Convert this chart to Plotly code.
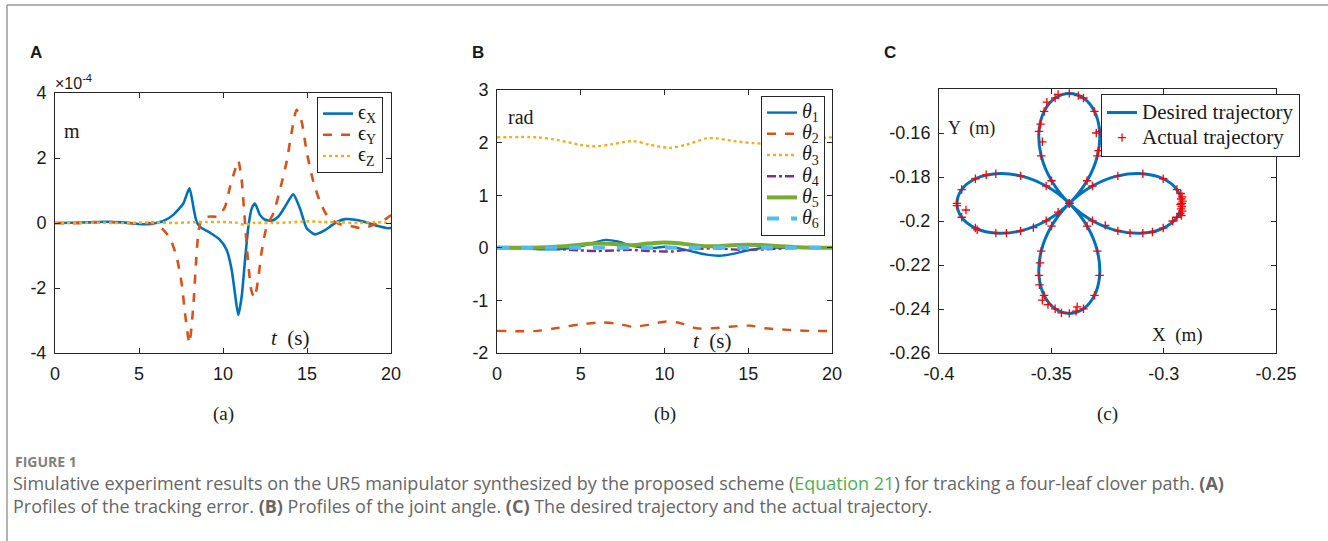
import plotly.graph_objects as go

# ---------------- DATA ----------------
# Panel A: tracking error (units of 1e-4 m)
t_ex = [0, 1, 2, 3, 4, 5, 5.5, 6, 6.45, 7.04, 7.64, 8.0, 8.27, 8.43, 8.63, 9.23, 9.82, 10.22,
        10.52, 10.71, 10.91, 11.11, 11.31, 11.51, 11.71, 11.9, 12.2, 12.5, 12.9, 13.3, 13.69,
        14.18, 14.58, 14.98, 15.48, 16.07, 16.67, 17.26, 17.86, 18.45, 19.05, 19.84, 20]
eps_x = [0, 0.01, 0.02, 0.04, 0.02, -0.03, -0.04, 0.0, 0.06, 0.25, 0.6, 1.07, 0.4, 0.04, -0.12,
         -0.3, -0.52, -0.83, -1.45, -2.16, -2.83, -2.27, -1.14, -0.11, 0.45, 0.6, 0.25, 0.1, 0.07,
         0.2, 0.5, 0.88, 0.45, -0.16, -0.35, -0.22, 0.0, 0.12, 0.1, 0.03, -0.07, -0.16, -0.15]

t_ey = [0, 1, 2, 3, 4, 5, 5.6, 6.05, 6.45, 6.85, 7.24, 7.54, 7.74, 8.0, 8.23, 8.39, 8.53, 8.73,
        9.23, 9.72, 10.12, 10.42, 10.71, 10.91, 11.11, 11.31, 11.5, 11.7, 11.88, 12.1, 12.3, 12.6,
        13.0, 13.39, 13.79, 14.09, 14.38, 14.68, 14.98, 15.38, 15.77, 16.17, 16.57, 17.06, 17.66,
        18.25, 18.75, 19.24, 19.74, 20]
eps_y = [0, -0.01, 0.01, 0.03, 0.01, -0.02, 0.0, -0.06, -0.21, -0.47, -1.04, -1.86, -2.78, -3.7,
         -2.57, -1.24, -0.32, 0.14, 0.2, 0.2, 0.5, 1.12, 1.63, 1.92, 1.32, 0.0, -1.24, -2.1, -2.3,
         -1.7, -0.88, -0.11, 0.3, 1.02, 1.89, 2.81, 3.48, 3.12, 2.19, 1.27, 0.66, 0.25, 0.06, -0.05,
         -0.1, -0.16, -0.1, 0.0, 0.14, 0.25]

t_ez = [0, 2, 4, 6, 7, 8, 9, 10, 10.8, 11.3, 11.8, 13, 14, 15, 16, 17, 18, 19, 20]
eps_z = [0, 0.01, 0.0, 0.02, 0.0, 0.02, 0.03, 0.03, 0.01, -0.06, 0.0, 0.0, 0.02, 0.05, 0.03,
         0.02, 0.0, 0.03, 0.0]

a_yticks = [-4, -2, 0, 2, 4]
a_xticks = [0, 5, 10, 15, 20]

# Panel B: joint angles (rad)
t_th1 = [0, 2, 3, 4, 5, 5.8, 6.5, 7.2, 8, 8.8, 9.5, 10, 10.5, 11, 11.8, 12.5, 13.3, 14, 14.8,
         15.5, 16, 18, 20]
theta1 = [0, -0.02, -0.03, -0.02, 0.03, 0.1, 0.15, 0.12, 0.04, 0.0, 0.0, 0.02, 0.01, -0.02,
          -0.08, -0.13, -0.15, -0.12, -0.06, -0.02, 0, 0, 0]
t_th2 = [0, 2.4, 3.5, 4.9, 6.1, 7.1, 8.1, 9.1, 10.1, 10.9, 11.9, 12.9, 13.9, 15.1, 16, 17.4,
         18.6, 20]
theta2 = [-1.58, -1.58, -1.53, -1.46, -1.42, -1.44, -1.5, -1.46, -1.4, -1.43, -1.53, -1.53,
          -1.5, -1.48, -1.53, -1.56, -1.58, -1.58]
t_th3 = [0, 2.4, 3.6, 4.9, 5.9, 6.9, 8.1, 9.1, 10.3, 11.3, 12.5, 13.1, 14.1, 15.3, 16.5, 17.5,
         18.7, 20]
theta3 = [2.1, 2.1, 2.05, 1.96, 1.93, 1.97, 2.03, 1.96, 1.9, 1.96, 2.08, 2.08, 2.03, 1.99,
          1.98, 2.02, 2.07, 2.1]
t_th4 = [0, 2, 3, 4, 5, 6, 7, 8, 9, 10, 10.5, 11, 12, 13, 14, 15, 16, 18, 20]
theta4 = [0, 0, -0.01, -0.03, -0.05, -0.06, -0.05, -0.04, -0.06, -0.07, -0.07, -0.05, -0.02,
          -0.01, -0.03, -0.04, -0.03, 0, 0]
t_th5 = [0, 2, 3, 4, 5, 6, 7, 8, 9, 10, 11, 12, 13, 14, 15, 16, 17, 18, 20]
theta5 = [0, 0, 0.01, 0.03, 0.06, 0.08, 0.07, 0.05, 0.08, 0.1, 0.08, 0.04, 0.03, 0.05, 0.06,
          0.05, 0.03, 0.01, 0]
t_th6 = [0, 5, 10, 15, 20]
theta6 = [0, 0, 0, 0, 0]

b_yticks = [-2, -1, 0, 1, 2, 3]
b_xticks = [0, 5, 10, 15, 20]

# Panel C: four-leaf clover trajectory (m)
desired_x = [-0.292, -0.2941, -0.3002, -0.3093, -0.3204, -0.3317, -0.342, -0.3499, -0.3545,
             -0.3555, -0.3532, -0.3483, -0.342, -0.3357, -0.3308, -0.3285, -0.3295, -0.3341,
             -0.342, -0.3523, -0.3637, -0.3747, -0.3838, -0.3899, -0.392, -0.3899, -0.3838,
             -0.3747, -0.3637, -0.3523, -0.342, -0.3341, -0.3295, -0.3285, -0.3308, -0.3357,
             -0.342, -0.3483, -0.3532, -0.3555, -0.3545, -0.3499, -0.342, -0.3317, -0.3204,
             -0.3093, -0.3002, -0.2941, -0.292]
desired_y = [-0.192, -0.1857, -0.1808, -0.1785, -0.1795, -0.1841, -0.192, -0.2023, -0.2137,
             -0.2247, -0.2338, -0.2399, -0.242, -0.2399, -0.2338, -0.2247, -0.2137, -0.2023,
             -0.192, -0.1841, -0.1795, -0.1785, -0.1808, -0.1857, -0.192, -0.1983, -0.2032,
             -0.2055, -0.2045, -0.1999, -0.192, -0.1817, -0.1704, -0.1593, -0.1502, -0.1441,
             -0.142, -0.1441, -0.1502, -0.1593, -0.1704, -0.1817, -0.192, -0.1999, -0.2045,
             -0.2055, -0.2032, -0.1983, -0.192]
# extra actual-trajectory samples (denser spots)
extra_x = [-0.2924, -0.2918, -0.2922, -0.2916, -0.2925, -0.2919, -0.2923, -0.2917, -0.2926,
           -0.2921, -0.3550, -0.3553, -0.3540, -0.3515, -0.3455, -0.3390, -0.3385, -0.3830,
           -0.3700, -0.3580, -0.3470, -0.3260, -0.3150, -0.3050, -0.2960, -0.3540, -0.3548,
           -0.3520, -0.3470, -0.3380, -0.3300, -0.3290, -0.3880, -0.3920, -0.3790]
extra_y = [-0.1875, -0.1890, -0.1900, -0.1910, -0.1925, -0.1935, -0.1945, -0.1955, -0.1965,
           -0.1975, -0.2190, -0.2290, -0.2360, -0.2380, -0.2418, -0.2410, -0.2390, -0.2040,
           -0.2055, -0.2030, -0.1960, -0.2020, -0.2055, -0.2050, -0.2000, -0.1640, -0.1560,
           -0.1460, -0.1425, -0.1430, -0.1600, -0.1680, -0.1950, -0.1930, -0.1790]
actual_x = desired_x + extra_x
actual_y = desired_y + extra_y

c_xticks = [-0.4, -0.35, -0.3, -0.25]
c_yticks = [-0.26, -0.24, -0.22, -0.2, -0.18, -0.16]

# ---------------- FIGURE ----------------
W, H = 1328, 541


def fx(p):
    return p / W


def fy(p):
    return 1 - p / H


BLUE, RED, YEL, PUR, GRN, CYA = '#0072BD', '#D95319', '#EDB120', '#7E2F8E', '#77AC30', '#4DBEEE'
SERIF = 'Liberation Serif, Times New Roman, serif'
SANS = 'Liberation Sans, Arial, sans-serif'


def big(txt, size):
    return f'<span style="font-size:{size}px">{txt}</span>'


fig = go.Figure()

# Panel A
fig.add_trace(go.Scatter(x=t_ex, y=eps_x, mode='lines', line=dict(color=BLUE, width=2.6, shape='spline', smoothing=0.6),
                         name=big('ϵ<sub>X</sub>', 20), xaxis='x', yaxis='y', legend='legend'))
fig.add_trace(go.Scatter(x=t_ey, y=eps_y, mode='lines', line=dict(color=RED, width=2.6, dash='dash', shape='spline', smoothing=0.6),
                         name=big('ϵ<sub>Y</sub>', 20), xaxis='x', yaxis='y', legend='legend'))
fig.add_trace(go.Scatter(x=t_ez, y=eps_z, mode='lines', line=dict(color=YEL, width=2.6, dash='dot', shape='spline', smoothing=0.6),
                         name=big('ϵ<sub>Z</sub>', 20), xaxis='x', yaxis='y', legend='legend'))

# Panel B
for tt, vv, nm, col, wd, ds in [
    (t_th1, theta1, '<i>θ</i><sub>1</sub>', BLUE, 2.4, 'solid'),
    (t_th2, theta2, '<i>θ</i><sub>2</sub>', RED, 2.4, 'dash'),
    (t_th3, theta3, '<i>θ</i><sub>3</sub>', YEL, 2.4, 'dot'),
    (t_th4, theta4, '<i>θ</i><sub>4</sub>', PUR, 2.4, 'dashdot'),
    (t_th5, theta5, '<i>θ</i><sub>5</sub>', GRN, 4, 'solid'),
    (t_th6, theta6, '<i>θ</i><sub>6</sub>', CYA, 4, 'dash'),
]:
    fig.add_trace(go.Scatter(x=tt, y=vv, mode='lines', name=big(nm, 20),
                             line=dict(color=col, width=wd, dash=ds, shape='spline', smoothing=0.8),
                             xaxis='x2', yaxis='y2', legend='legend2'))

# Panel C
fig.add_trace(go.Scatter(x=desired_x, y=desired_y, mode='lines', name=big('Desired trajectory', 21),
                         line=dict(color=BLUE, width=3, shape='spline', smoothing=1.0),
                         xaxis='x3', yaxis='y3', legend='legend3'))
fig.add_trace(go.Scatter(x=actual_x, y=actual_y, mode='markers', name=big('Actual trajectory', 21),
                         marker=dict(symbol='cross-thin', size=6, color='red', line=dict(width=1.3, color='red')),
                         xaxis='x3', yaxis='y3', legend='legend3'))

axis_common = dict(showline=True, linecolor='#262626', linewidth=1, mirror='ticks', ticks='inside',
                   ticklen=5, tickcolor='#262626', showgrid=False, zeroline=False, automargin=False,
                   tickfont=dict(family=SANS, size=18, color='#1a1a1a'), ticklabelstandoff=4)

leg_common = dict(xanchor='left', yanchor='top', bgcolor='white', bordercolor='#262626',
                  borderwidth=1, itemwidth=30, tracegroupgap=0,
                  font=dict(family=SERIF, size=14, color='#1a1a1a'))

fig.update_layout(
    width=W, height=H, margin=dict(l=0, r=0, t=0, b=0, autoexpand=False),
    paper_bgcolor='white', plot_bgcolor='white', showlegend=True,
    xaxis=dict(axis_common, domain=[fx(55), fx(391)], range=[0, 20], anchor='y',
               tickvals=a_xticks, ticktext=[str(v) for v in a_xticks]),
    yaxis=dict(axis_common, domain=[fy(353), fy(93)], range=[-4, 4], anchor='x',
               tickvals=a_yticks, ticktext=[str(v) for v in a_yticks]),
    xaxis2=dict(axis_common, domain=[fx(497), fx(832)], range=[0, 20], anchor='y2',
                tickvals=b_xticks, ticktext=[str(v) for v in b_xticks]),
    yaxis2=dict(axis_common, domain=[fy(353), fy(90)], range=[-2, 3], anchor='x2',
                tickvals=b_yticks, ticktext=[str(v) for v in b_yticks]),
    xaxis3=dict(axis_common, domain=[fx(939), fx(1276)], range=[-0.4, -0.25], anchor='y3',
                tickvals=c_xticks, ticktext=[f'{v:g}' for v in c_xticks]),
    yaxis3=dict(axis_common, domain=[fy(353), fy(89)], range=[-0.26, -0.14], anchor='x3',
                tickvals=c_yticks, ticktext=[f'{v:g}' for v in c_yticks]),
    legend=dict(leg_common, x=fx(317), y=fy(97)),
    legend2=dict(leg_common, x=fx(761), y=fy(96)),
    legend3=dict(leg_common, x=fx(1101), y=fy(94), font=dict(family=SERIF, size=17, color='#1a1a1a')),
)

annotations = []


def ann(text, x, y, size, family, xanchor='center', yanchor='middle', color='#1a1a1a', align='center'):
    annotations.append(dict(text=text, x=fx(x), y=fy(y), xref='paper', yref='paper',
                            xanchor=xanchor, yanchor=yanchor, showarrow=False, align=align,
                            font=dict(size=size, family=family, color=color)))


ann('<b>A</b>', 28, 52, 17, SANS, xanchor='left')
ann('<b>B</b>', 470, 52, 17, SANS, xanchor='left')
ann('<b>C</b>', 882, 52, 17, SANS, xanchor='left')
ann('×10<sup>-4</sup>', 53, 82, 16, SANS, xanchor='left')
ann('m', 72, 131, 20, SERIF)
ann('rad', 521, 117, 20, SERIF)
ann('<i>t</i>  (s)', 290, 338, 21, SERIF)
ann('<i>t</i>  (s)', 712, 341, 21, SERIF)
ann('Y  (m)', 971, 128, 18, SERIF)
ann('X  (m)', 1177, 335, 19, SERIF)
ann('(a)', 223, 414, 19, SERIF)
ann('(b)', 665, 414, 19, SERIF)
ann('(c)', 1107, 414, 19, SERIF)

CAP = 'Open Sans, Noto Sans, sans-serif'
ann('<b>FIGURE 1</b>', 13, 461, 14, CAP, xanchor='left', color='#808080')
ann('Simulative experiment results on the UR5 manipulator synthesized by the proposed scheme '
    '(<span style="color:#4CAF50">Equation 21</span>) for tracking a four-leaf clover path. '
    '<b>(A)</b><br>Profiles of the tracking error. <b>(B)</b> Profiles of the joint angle. '
    '<b>(C)</b> The desired trajectory and the actual trajectory.',
    11, 494, 18, CAP, xanchor='left', color='#666666', align='left')

fig.update_layout(annotations=annotations,
                  shapes=[dict(type='line', xref='paper', yref='paper', x0=fx(7), x1=1, y0=fy(5), y1=fy(5),
                               line=dict(color='#9a9a9a', width=1.5)),
                          dict(type='line', xref='paper', yref='paper', x0=fx(7), x1=fx(7), y0=fy(5), y1=0,
                               line=dict(color='#9a9a9a', width=1.5))])

fig.write_html('out.html', config={'displayModeBar': False},
               post_script="document.body.style.margin='0';document.body.style.overflow='hidden';")
